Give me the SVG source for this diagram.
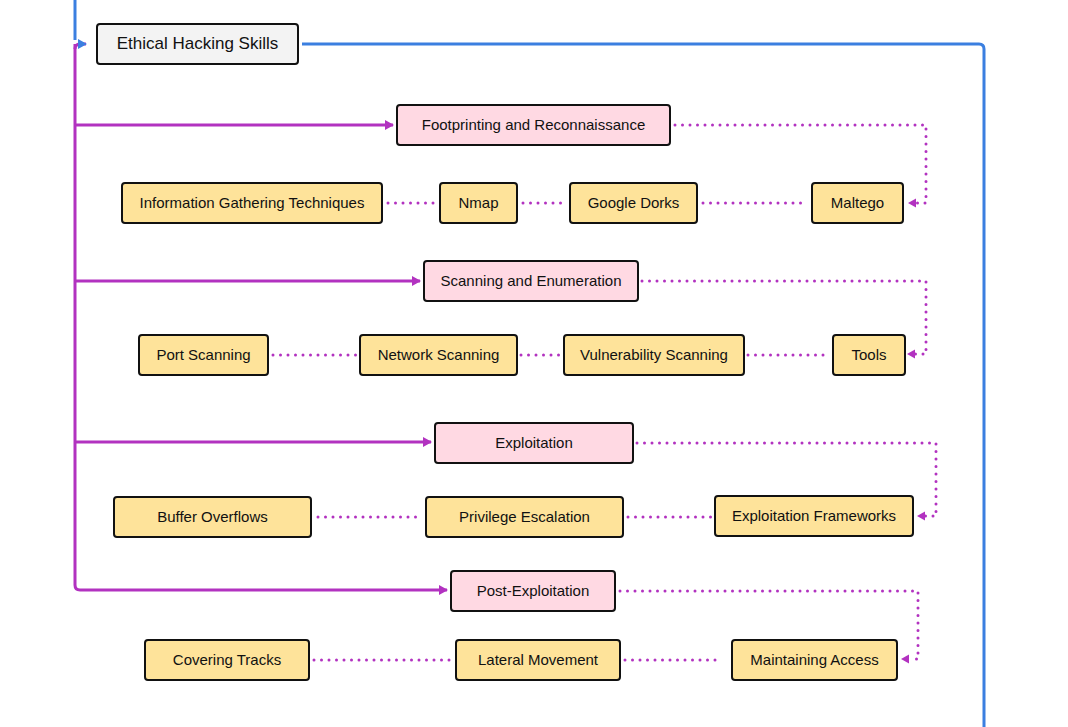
<svg xmlns="http://www.w3.org/2000/svg" width="1068" height="727" viewBox="0 0 1068 727">
<style>
.n rect{stroke:#111;stroke-width:2}
.root rect{fill:#f3f3f3}
.p rect{fill:#ffd9e3}
.y rect{fill:#fee39a}
text{font-family:"Liberation Sans",Arial,sans-serif;font-size:15px;fill:#111;text-anchor:middle;dominant-baseline:central}
.root text{font-size:17px}
.solid{fill:none;stroke:#b232c0;stroke-width:3;stroke-linejoin:round}
.dot{fill:none;stroke:#b232c0;stroke-width:3;stroke-dasharray:0 7.5;stroke-linecap:round;stroke-linejoin:round}
.blue{fill:none;stroke:#3b7fe0;stroke-width:3}
</style>
<defs>
<marker id="ah" markerWidth="10" markerHeight="10" refX="8" refY="5" orient="auto" markerUnits="userSpaceOnUse"><path d="M0,0 L9,5 L0,10 Z" fill="#b232c0"/></marker>
<marker id="ahb" markerWidth="10" markerHeight="10" refX="8" refY="5" orient="auto" markerUnits="userSpaceOnUse"><path d="M0,0 L9,5 L0,10 Z" fill="#3b7fe0"/></marker>
</defs>
<g id="connectors">
<path class="blue" d="M75,0 V40"/>
<path class="blue" d="M302,44 H979 Q984,44 984,49 V727"/>
<path class="solid" d="M75,49 Q75,44 80,44 H86" marker-end="url(#ahb)"/>
<path class="solid" d="M75,44 V585 Q75,590 80,590 H447" marker-end="url(#ah)"/>
<path class="solid" d="M75,125 H393" marker-end="url(#ah)"/>
<path class="solid" d="M75,281 H420" marker-end="url(#ah)"/>
<path class="solid" d="M75,442 H431" marker-end="url(#ah)"/>
<path class="dot" d="M675,125 H926 V203 H914"/>
<path d="M908,203 L916,198.5 L916,207.5 Z" fill="#b232c0"/>
<path class="dot" d="M642,281 H926 V354 H914"/>
<path d="M907,354 L915,349.5 L915,358.5 Z" fill="#b232c0"/>
<path class="dot" d="M637,443 H936 V516 H925"/>
<path d="M917,516 L925,511.5 L925,520.5 Z" fill="#b232c0"/>
<path class="dot" d="M620,591 H918 V659 H909"/>
<path d="M901,659 L909,654.5 L909,663.5 Z" fill="#b232c0"/>
<path class="dot" d="M388,203 H436"/>
<path class="dot" d="M523,203 H566"/>
<path class="dot" d="M703,203 H806"/>
<path class="dot" d="M273,355 H358"/>
<path class="dot" d="M521,355 H561"/>
<path class="dot" d="M748,355 H829"/>
<path class="dot" d="M318,517 H423"/>
<path class="dot" d="M628,517 H712"/>
<path class="dot" d="M314,660 H452"/>
<path class="dot" d="M625,660 H722"/>
</g>
<g id="ethical" class="n root"><rect x="97" y="24" width="201" height="40" rx="3"/><text x="197.5" y="43">Ethical Hacking Skills</text></g>
<g id="footprinting" class="n p"><rect x="397" y="105" width="273" height="40" rx="3"/><text x="533.5" y="124">Footprinting and Reconnaissance</text></g>
<g id="infogathering" class="n y"><rect x="122" y="183" width="260" height="40" rx="3"/><text x="252" y="202">Information Gathering Techniques</text></g>
<g id="nmap" class="n y"><rect x="440" y="183" width="77" height="40" rx="3"/><text x="478.5" y="202">Nmap</text></g>
<g id="googledorks" class="n y"><rect x="570" y="183" width="127" height="40" rx="3"/><text x="633.5" y="202">Google Dorks</text></g>
<g id="maltego" class="n y"><rect x="812" y="183" width="91" height="40" rx="3"/><text x="857.5" y="202">Maltego</text></g>
<g id="scanning" class="n p"><rect x="424" y="261" width="214" height="40" rx="3"/><text x="531" y="280">Scanning and Enumeration</text></g>
<g id="portscanning" class="n y"><rect x="139" y="335" width="129" height="40" rx="3"/><text x="203.5" y="354">Port Scanning</text></g>
<g id="networkscanning" class="n y"><rect x="360" y="335" width="157" height="40" rx="3"/><text x="438.5" y="354">Network Scanning</text></g>
<g id="vulnscanning" class="n y"><rect x="564" y="335" width="180" height="40" rx="3"/><text x="654" y="354">Vulnerability Scanning</text></g>
<g id="tools" class="n y"><rect x="833" y="335" width="72" height="40" rx="3"/><text x="869" y="354">Tools</text></g>
<g id="exploitation" class="n p"><rect x="435" y="423" width="198" height="40" rx="3"/><text x="534" y="442">Exploitation</text></g>
<g id="bufferoverflows" class="n y"><rect x="114" y="497" width="197" height="40" rx="3"/><text x="212.5" y="516">Buffer Overflows</text></g>
<g id="privesc" class="n y"><rect x="426" y="497" width="197" height="40" rx="3"/><text x="524.5" y="516">Privilege Escalation</text></g>
<g id="frameworks" class="n y"><rect x="715" y="496" width="198" height="40" rx="3"/><text x="814" y="515">Exploitation Frameworks</text></g>
<g id="postexploitation" class="n p"><rect x="451" y="571" width="164" height="40" rx="3"/><text x="533" y="590">Post-Exploitation</text></g>
<g id="coveringtracks" class="n y"><rect x="145" y="640" width="164" height="40" rx="3"/><text x="227" y="659">Covering Tracks</text></g>
<g id="lateralmovement" class="n y"><rect x="456" y="640" width="164" height="40" rx="3"/><text x="538" y="659">Lateral Movement</text></g>
<g id="maintainingaccess" class="n y"><rect x="732" y="640" width="165" height="40" rx="3"/><text x="814.5" y="659">Maintaining Access</text></g>
</svg>
